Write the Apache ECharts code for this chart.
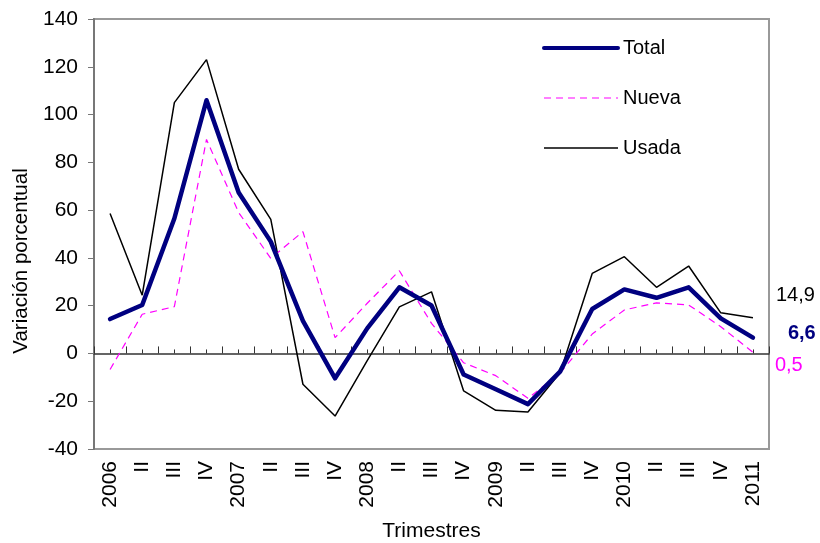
<!DOCTYPE html>
<html>
<head>
<meta charset="utf-8">
<script src="https://cdn.jsdelivr.net/npm/echarts@6/dist/echarts.min.js"></script>
<style>
  html, body { margin: 0; padding: 0; background: #fff; }
  #chart { width: 820px; height: 543px; }
</style>
</head>
<body>
<div id="chart"></div>
<script>
// Quarters 2006 – 2011 (first quarter labelled with the year)
const trimestres = ['2006', 'II', 'III', 'IV', '2007', 'II', 'III', 'IV', '2008', 'II', 'III', 'IV',
                    '2009', 'II', 'III', 'IV', '2010', 'II', 'III', 'IV', '2011'];

// Year-on-year percentage change
const total = [14.4, 20.3, 56.5, 106, 67.4, 46.8, 13.6, -10.4, 10.5, 27.7, 20.1, -8.8,
               -15, -21.2, -7.6, 18.6, 26.8, 23.3, 27.7, 14.7, 6.6];
const nueva = [-6.7, 16.4, 19.6, 89.6, 59, 39.8, 51, 6.6, 21, 34.6, 12.6, -3.9,
               -9.3, -18.8, -8.2, 8.1, 18.2, 21.2, 20.3, 11.2, 0.5];
const usada = [58.6, 24.4, 105, 123, 77.1, 56.1, -12.9, -26.2, -3, 19.5, 25.8, -15.7,
               -23.8, -24.5, -8.1, 33.5, 40.5, 27.7, 36.6, 17.0, 14.9];

const yTicks = { min: -40, max: 140, interval: 20 };

const FONT = '"Liberation Sans", Arial, sans-serif';

// Attach a value label to the last point of a series
function lastPointLabel(values, style) {
  return values.map((v, i) => {
    if (i !== values.length - 1) return v;
    return {
      value: v,
      symbol: 'circle',
      symbolSize: 0,
      label: Object.assign({
        show: true,
        position: 'right',
        fontFamily: FONT,
        fontSize: 20,
        formatter: p => String(p.value).replace('.', ',')
      }, style)
    };
  });
}

const chart = echarts.init(document.getElementById('chart'), null, { renderer: 'canvas' });

const hiddenLabels = { show: false };

chart.setOption({
  animation: false,
  backgroundColor: '#fff',
  textStyle: { fontFamily: FONT, color: '#000' },
  grid: {
    left: 94, right: 51, top: 19, bottom: 94,
    show: true, borderColor: '#999', borderWidth: 2,
    outerBoundsMode: 'none'
  },
  legend: {
    orient: 'vertical',
    left: 537, top: 33,
    itemWidth: 74, itemHeight: 20, itemGap: 30,
    itemStyle: { opacity: 0 },
    textStyle: { fontFamily: FONT, fontSize: 20, color: '#000', lineHeight: 20 },
    data: [
      { name: 'Total', lineStyle: { width: 4 } },
      { name: 'Nueva', lineStyle: { width: 1.2 } },
      { name: 'Usada', lineStyle: { width: 1.5 } }
    ]
  },
  xAxis: [
    {
      // category labels along the bottom of the plot
      type: 'category',
      data: trimestres,
      position: 'bottom',
      boundaryGap: true,
      axisLine: { show: false, onZero: false },
      axisTick: { show: false },
      axisLabel: { rotate: 90, interval: 0, margin: 12, fontFamily: FONT, fontSize: 21, color: '#000' },
      name: 'Trimestres',
      nameLocation: 'middle',
      nameGap: 72,
      nameTextStyle: { fontFamily: FONT, fontSize: 21, color: '#000' },
      splitLine: { show: false }
    },
    {
      // zero line with long ticks between quarters
      type: 'category',
      data: trimestres,
      position: 'bottom',
      boundaryGap: true,
      axisLine: { show: true, onZero: true, onZeroAxisIndex: 0, lineStyle: { color: '#333', width: 1.5 } },
      axisTick: { show: true, inside: true, length: 7, interval: 0, lineStyle: { color: '#333', width: 1 } },
      axisLabel: hiddenLabels,
      splitLine: { show: false }
    },
    {
      // short ticks at each quarter
      type: 'category',
      data: trimestres,
      position: 'bottom',
      boundaryGap: true,
      axisLine: { show: false, onZero: true, onZeroAxisIndex: 0 },
      axisTick: { show: true, inside: true, length: 4, interval: 0, alignWithLabel: true, lineStyle: { color: '#333', width: 1 } },
      axisLabel: hiddenLabels,
      splitLine: { show: false }
    }
  ],
  yAxis: {
    type: 'value',
    min: yTicks.min, max: yTicks.max, interval: yTicks.interval,
    axisLine: { show: true, lineStyle: { color: '#777', width: 2 } },
    axisTick: { show: true, length: 6, lineStyle: { color: '#777', width: 1 } },
    axisLabel: { fontFamily: FONT, fontSize: 21, color: '#000', margin: 16 },
    splitLine: { show: false },
    name: 'Variación porcentual',
    nameLocation: 'middle',
    nameGap: 62,
    nameTextStyle: { fontFamily: FONT, fontSize: 20.5, color: '#000', padding: [0, 54, 0, 0] }
  },
  series: [
    {
      name: 'Usada',
      type: 'line',
      data: lastPointLabel(usada, { color: '#000', distance: 23, offset: [0, -22] }),
      symbol: 'none', showAllSymbol: true,
      color: '#000',
      lineStyle: { color: '#000', width: 1.5 },
      z: 3
    },
    {
      name: 'Nueva',
      type: 'line',
      data: lastPointLabel(nueva, { color: '#FF00FF', distance: 22, offset: [0, 13] }),
      symbol: 'none', showAllSymbol: true,
      color: '#FF00FF',
      lineStyle: { color: '#FF00FF', width: 1.2, type: [7, 5] },
      z: 4
    },
    {
      name: 'Total',
      type: 'line',
      data: lastPointLabel(total, { color: '#000080', fontWeight: 'bold', distance: 35, offset: [0, -4] }),
      symbol: 'none', showAllSymbol: true,
      color: '#000080',
      lineStyle: { color: '#000080', width: 4.5, join: 'round', cap: 'round' },
      z: 5
    }
  ]
});
</script>
</body>
</html>
